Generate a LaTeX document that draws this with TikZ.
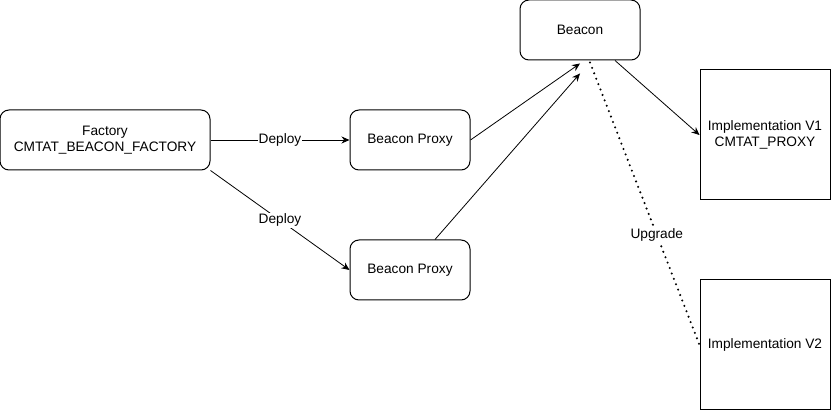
\documentclass[tikz,border=0pt]{standalone}
\usepackage{fontspec}
\setmainfont{Liberation Sans}
\usetikzlibrary{arrows.meta,calc,positioning}
\tikzset{
  box/.style={draw,rounded corners=9pt,minimum width=120pt,minimum height=60pt,align=center,line width=1pt},
  implbox/.style={draw,minimum width=130pt,minimum height=130pt,align=center,line width=1pt},
  link/.style={-{Stealth[length=8pt,width=7pt]},line width=0.8pt},
  lbl/.style={fill=white,inner sep=1pt}
}
\begin{document}
\begin{tikzpicture}[x=1pt,y=-1pt,font=\fontsize{13.7}{15.5}\selectfont]
      \useasboundingbox (0,0) rectangle (831,411);
      \node[box,minimum width=210pt] (factory) at (105,140) {Factory\\CMTAT\_BEACON\_FACTORY};
      \node[box] (proxyA) at (410,140) {Beacon Proxy};
      \node[box] (proxyB) at (410,270) {Beacon Proxy};
      \node[box] (beacon) at (580,30) {Beacon};
      \node[implbox] (implA) at (765,135) {Implementation V1\\CMTAT\_PROXY};
      \node[implbox] (implB) at (765,345) {Implementation V2};
      \coordinate (inA) at ($(beacon.south)+(0,3)$);
      \coordinate (inB) at ($(beacon.south)+(0,13)$);
      % factory deploys proxies
      \draw[link] (factory.east) -- node[lbl] {Deploy} (proxyA.west);
      \draw[link] (factory.south east) -- node[lbl] {Deploy} (proxyB.west);
      % proxies point to beacon
      \draw[link] (proxyA.east) -- (inA);
      \draw[link] ($(proxyB.north)+(25,0)$) -- (inB);
      \draw[link] ($(beacon.south)+(35,0)$) -- (implA.west);
      \draw[line width=2.3pt,line cap=round,dash pattern=on 0pt off 5.8pt] ($(beacon.south)+(10,2)$) -- node[lbl,pos=0.61,inner sep=2pt] {Upgrade} (implB.west);
    \end{tikzpicture}
\end{document}
